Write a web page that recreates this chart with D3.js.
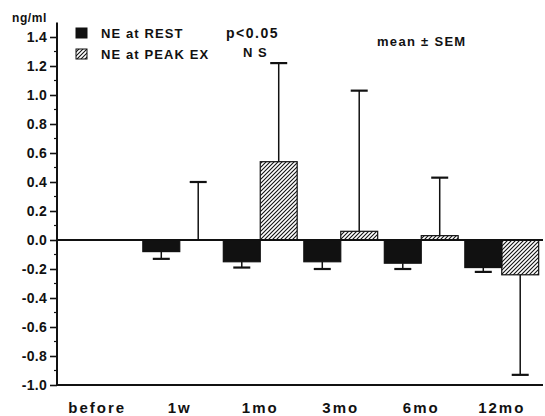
<!DOCTYPE html>
<html>
<head>
<meta charset="utf-8">
<script src="https://cdn.jsdelivr.net/npm/d3@7"></script>
<style>
  html, body { margin: 0; padding: 0; background: #fff; }
  svg { display: block; }
  text { font-family: "Liberation Sans", Arial, Helvetica, sans-serif; font-weight: bold; fill: #111; }
</style>
</head>
<body>
<svg id="chart" width="545" height="416"></svg>
<script>
// Change in plasma norepinephrine from baseline (ng/ml), mean ± SEM
const categories = ["before", "1w", "1mo", "3mo", "6mo", "12mo"];
const restMean = [null, -0.08, -0.15, -0.15, -0.16, -0.19];
const restSem  = [null, 0.05, 0.04, 0.05, 0.04, 0.03];
const peakMean = [null, 0.00, 0.54, 0.06, 0.03, -0.24];
const peakSem  = [null, 0.40, 0.68, 0.97, 0.40, 0.69];
const yTicks = [1.4, 1.2, 1.0, 0.8, 0.6, 0.4, 0.2, 0.0, -0.2, -0.4, -0.6, -0.8, -1.0];
const seriesNames = ["NE at REST", "NE at PEAK EX"];

const svg = d3.select("#chart");
const ink = "#111";

// Pattern for the peak-exercise bars
const defs = svg.append("defs");
defs.append("pattern")
  .attr("id", "hatch")
  .attr("patternUnits", "userSpaceOnUse")
  .attr("width", 4).attr("height", 4)
  .append("path")
  .attr("d", "M-1,1 l2,-2 M0,4 l4,-4 M3,5 l2,-2")
  .attr("stroke", ink).attr("stroke-width", 1.1);

const axisX = 57;
const y = d3.scaleLinear().domain([-1.0, 1.5]).range([385, 22.5]);
const x0 = d3.scaleBand().domain(categories).range([59, 542]).padding(0);
const x1 = d3.scaleBand().domain(["rest", "peak"]).range([0, x0.bandwidth()]).paddingInner(0).paddingOuter(0.09);

// Y axis: labelled ticks every 0.2, minor ticks every 0.1
const yAxis = d3.axisLeft(y)
  .tickValues(yTicks)
  .tickSize(7)
  .tickPadding(3)
  .tickFormat(d3.format(".1f"));
const gy = svg.append("g").attr("transform", `translate(${axisX},0)`).call(yAxis);
gy.select(".domain").remove();
gy.selectAll(".tick line").attr("stroke", ink).attr("stroke-width", 1.6);
gy.selectAll(".tick text")
  .attr("fill", ink)
  .style("font-size", "14px")
  .style("letter-spacing", "0.3px")
  .style("font-weight", "bold")
  .style("font-family", "'Liberation Sans', Arial, sans-serif")
  .text(d => d3.format(".1f")(d).replace("−", "-"));

const minor = d3.range(-9, 15, 2).map(v => v / 10);
svg.append("g").selectAll("line").data(minor).join("line")
  .attr("x1", axisX - 3).attr("x2", axisX)
  .attr("y1", d => y(d)).attr("y2", d => y(d))
  .attr("stroke", ink).attr("stroke-width", 1.2);

// axis lines
svg.append("line")
  .attr("x1", axisX).attr("x2", axisX)
  .attr("y1", y(1.5)).attr("y2", y(-1.0))
  .attr("stroke", ink).attr("stroke-width", 2);
svg.append("line")
  .attr("x1", axisX).attr("x2", 543)
  .attr("y1", y(-1.0)).attr("y2", y(-1.0))
  .attr("stroke", ink).attr("stroke-width", 2);
svg.append("line")
  .attr("x1", axisX).attr("x2", 543)
  .attr("y1", y(0)).attr("y2", y(0))
  .attr("stroke", ink).attr("stroke-width", 2);

svg.append("text").attr("x", 12).attr("y", 22)
  .style("font-size", "12px").style("letter-spacing", "0.6px").text("ng/ml");

// Bars and error bars
const rows = [];
categories.forEach((c, i) => {
  if (restMean[i] !== null) rows.push({ cat: c, key: "rest", mean: restMean[i], sem: restSem[i] });
  if (peakMean[i] !== null) rows.push({ cat: c, key: "peak", mean: peakMean[i], sem: peakSem[i] });
});

const bx = d => x0(d.cat) + x1(d.key);
const bw = x1.bandwidth();

const gBars = svg.append("g");
gBars.selectAll("rect").data(rows.filter(d => d.mean !== 0)).join("rect")
  .attr("x", bx)
  .attr("width", bw)
  .attr("y", d => y(Math.max(0, d.mean)))
  .attr("height", d => Math.abs(y(d.mean) - y(0)))
  .attr("fill", d => d.key === "rest" ? ink : "url(#hatch)")
  .attr("stroke", ink)
  .attr("stroke-width", 1.2);

// whisker extends away from zero, in the direction of the mean
const tip = d => d.mean >= 0 ? d.mean + d.sem : d.mean - d.sem;
const gErr = svg.append("g");
gErr.selectAll("line.w").data(rows).join("line")
  .attr("class", "w")
  .attr("x1", d => bx(d) + bw / 2).attr("x2", d => bx(d) + bw / 2)
  .attr("y1", d => y(d.mean)).attr("y2", d => y(tip(d)))
  .attr("stroke", ink).attr("stroke-width", 1.5);
gErr.selectAll("line.c").data(rows).join("line")
  .attr("class", "c")
  .attr("x1", d => bx(d) + bw / 2 - 8.5).attr("x2", d => bx(d) + bw / 2 + 8.5)
  .attr("y1", d => y(tip(d))).attr("y2", d => y(tip(d)))
  .attr("stroke", ink).attr("stroke-width", 2.2);

// Category labels
svg.append("g").selectAll("text").data(categories).join("text")
  .attr("x", d => x0(d) + x0.bandwidth() / 2 - (d === "before" ? 2 : 0))
  .attr("y", 413)
  .attr("text-anchor", "middle")
  .style("font-size", "15px")
  .style("letter-spacing", "2px")
  .text(d => d);

// Legend
const legend = svg.append("g");
seriesNames.forEach((name, i) => {
  const ly = 28 + i * 21;
  legend.append("rect")
    .attr("x", 76).attr("y", ly).attr("width", 11).attr("height", 10)
    .attr("fill", i === 0 ? ink : "url(#hatch)")
    .attr("stroke", ink).attr("stroke-width", 1);
  legend.append("text")
    .attr("x", 101).attr("y", ly + 10)
    .style("font-size", "13px")
    .style("letter-spacing", "1.1px")
    .text(name);
});

svg.append("text").attr("x", 226).attr("y", 38)
  .style("font-size", "14px").style("letter-spacing", "1.5px").text("p<0.05");
svg.append("text").attr("x", 243).attr("y", 57)
  .style("font-size", "13px").style("letter-spacing", "1px").text("N S");
svg.append("text").attr("x", 377).attr("y", 46)
  .style("font-size", "13px").style("letter-spacing", "1.3px").text("mean ± SEM");
</script>
</body>
</html>
